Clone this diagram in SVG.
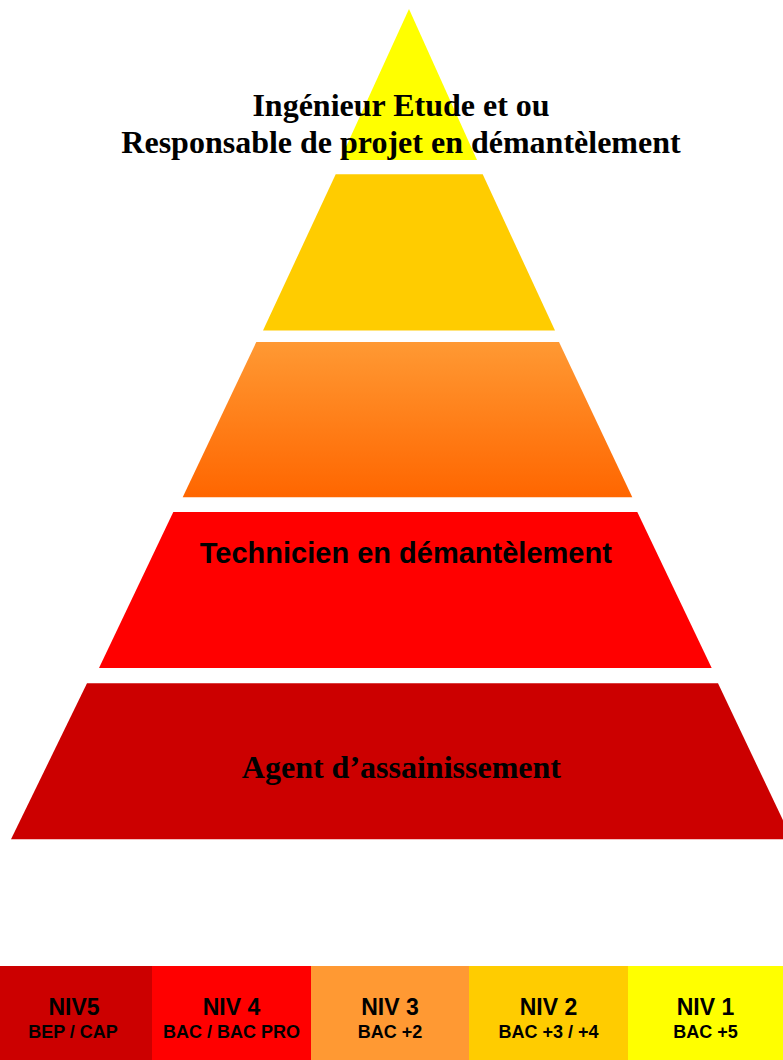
<svg xmlns="http://www.w3.org/2000/svg" width="783" height="1060" viewBox="0 0 783 1060">
<style>
.serif{font-family:"Liberation Serif","Times New Roman",serif;font-weight:bold;fill:#000;text-anchor:middle}
.sans{font-family:"Liberation Sans",Arial,sans-serif;font-weight:bold;fill:#000;text-anchor:middle}
.niv{font-size:23px}
.sub{font-size:18px}
</style>
<defs>
<linearGradient id="og" x1="0" y1="0" x2="0" y2="1">
<stop offset="0" stop-color="#FF9933"/>
<stop offset="1" stop-color="#FF6600"/>
</linearGradient>
</defs>
<rect width="783" height="1060" fill="#fff"/>
<g id="level1">
<polygon points="409,9 477,160 340,160" fill="#FFFF00"/>
<text class="serif" x="401" y="116" font-size="32">Ingénieur Etude et ou</text>
<text class="serif" x="401" y="153" font-size="32">Responsable de projet en démantèlement</text>
</g>
<g id="level2">
<polygon points="335.7,174.3 482.7,174.3 555,330.5 263,330.5" fill="#FFCC00"/>
</g>
<g id="level3">
<polygon points="256.3,342 559,342 632.3,497.3 182.7,497.3" fill="url(#og)"/>
</g>
<g id="level4">
<polygon points="173.3,512 637.3,512 711.7,668 99,668" fill="#FF0000"/>
<text class="sans" x="405.8" y="562.7" font-size="29">Technicien en démantèlement</text>
</g>
<g id="level5">
<polygon points="87,683.3 718,683.3 792,839.3 11,839.3" fill="#CC0000"/>
<text class="serif" x="401.4" y="778.3" font-size="32">Agent d’assainissement</text>
</g>
<g id="connectors"></g>
<g id="legend">
<g id="leg5">
<rect x="0" y="966" width="152" height="94" fill="#CC0000"/>
<text class="sans niv" x="74" y="1015">NIV5</text>
<text class="sans sub" x="73" y="1038">BEP / CAP</text>
</g>
<g id="leg4">
<rect x="152" y="966" width="159" height="94" fill="#FF0000"/>
<text class="sans niv" x="231.5" y="1015">NIV 4</text>
<text class="sans sub" x="231.5" y="1038">BAC / BAC PRO</text>
</g>
<g id="leg3">
<rect x="311" y="966" width="158" height="94" fill="#FF9933"/>
<text class="sans niv" x="390" y="1015">NIV 3</text>
<text class="sans sub" x="390" y="1038">BAC +2</text>
</g>
<g id="leg2">
<rect x="469" y="966" width="159" height="94" fill="#FFCC00"/>
<text class="sans niv" x="548.5" y="1015">NIV 2</text>
<text class="sans sub" x="548.5" y="1038">BAC +3 / +4</text>
</g>
<g id="leg1">
<rect x="628" y="966" width="155" height="94" fill="#FFFF00"/>
<text class="sans niv" x="705.5" y="1015">NIV 1</text>
<text class="sans sub" x="705.5" y="1038">BAC +5</text>
</g>
</g>
</svg>
